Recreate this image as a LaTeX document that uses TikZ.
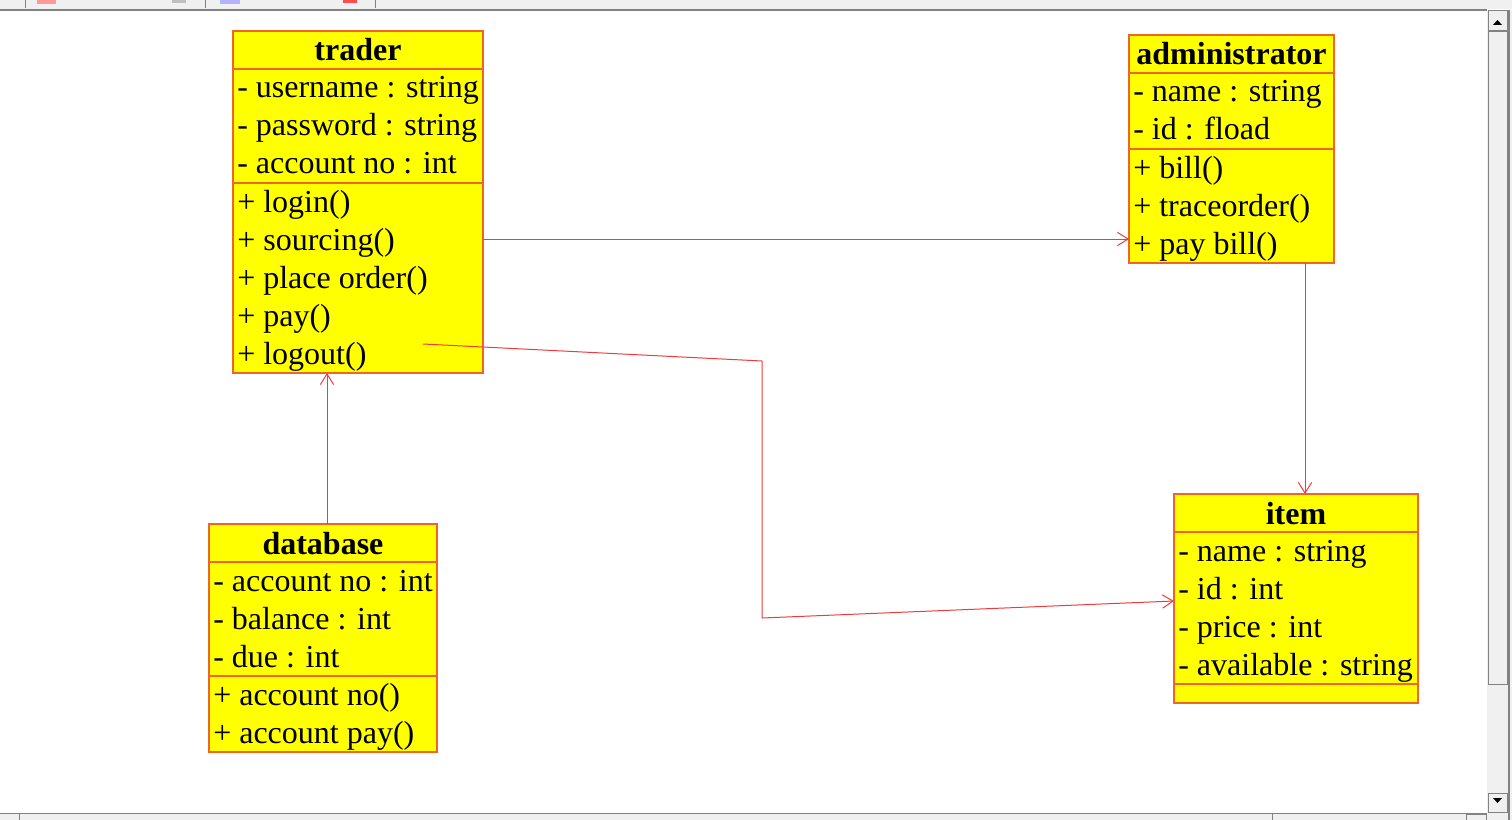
\documentclass[tikz,border=0pt]{standalone}
\usepackage{fontspec}
\setmainfont{Liberation Serif}
\usetikzlibrary{arrows.meta}
\definecolor{boxline}{RGB}{240,100,40}
\definecolor{classfill}{RGB}{255,255,0}
\definecolor{linkred}{RGB}{236,60,60}
\definecolor{chrome}{RGB}{240,240,240}
\definecolor{chromeline}{RGB}{130,130,130}
\newcommand{\px}{0.75pt}
\tikzset{
  classbox/.style={draw=boxline,fill=classfill,line width=1.5*\px,inner sep=0pt,outer sep=0pt,anchor=north west},
  divider/.style={draw=boxline,line width=1.5*\px},
  member/.style={anchor=base west,inner sep=0pt,font=\fontsize{24}{28}\selectfont},
  classname/.style={anchor=base,inner sep=0pt,font=\fontsize{24}{28}\selectfont\bfseries},
  link/.style={draw=linkred,line width=1*\px,-{Straight Barb[length=8pt,width=10pt]}},
  bar/.style={fill=chrome,draw=chromeline,line width=1*\px},
}
\begin{document}
\begin{tikzpicture}[x=0.75pt,y=-0.75pt]
\useasboundingbox (0,0) rectangle (1512,820);
% window chrome
\fill[chrome] (0,0) rectangle (1512,9);
\draw[chromeline,line width=2*\px] (0,10) -- (1487,10);
\draw[chromeline] (25,0) -- (25,8) (205,0) -- (205,8) (375,0) -- (375,8);
\fill[red!40] (37,0) rectangle (56,4);
\fill[gray!50] (172,0) rectangle (186,3);
\fill[blue!30] (220,0) rectangle (240,4);
\fill[red!70] (343,0) rectangle (357,3);
\fill[chrome] (1487,10) rectangle (1512,820);
\fill[chrome] (0,813) rectangle (1512,820);
\draw[chromeline] (0,813) -- (1487,813);
\draw[chromeline] (19,813) -- (19,820) (1272,813) -- (1272,820);
\draw[chromeline,line width=2*\px] (1509,10) -- (1509,820);
\draw[bar] (1488,11) rectangle (1507,31);
\fill (1493,25) -- (1502,25) -- (1497.5,20) -- cycle;
\draw[bar] (1488,32) rectangle (1507,684);
\draw[bar] (1488,793) rectangle (1507,812);
\fill (1493,798) -- (1502,798) -- (1497.5,803) -- cycle;
\draw[bar] (1466,814) rectangle (1486,820);
% trader
\node[classbox,minimum width=250*\px,minimum height=342*\px] (trader) at (233,31) {};
\draw[divider] (233,69) -- (483,69) (233,183) -- (483,183);
\node[classname] (trader-name) at (358,61) {trader};
\foreach \t [count=\i] in {- username : string,- password : string,- account no : int}
  \node[member] (trader-a\i) at (237,60+38*\i) {\t};
\foreach \t [count=\i] in {+ login(),+ sourcing(),+ place order(),+ pay(),+ logout()}
  \node[member] (trader-m\i) at (237,174+38*\i) {\t};
% administrator
\node[classbox,minimum width=205*\px,minimum height=228*\px] (admin) at (1129,35) {};
\draw[divider] (1129,73) -- (1334,73) (1129,149) -- (1334,149);
\node[classname] (admin-name) at (1231.5,65) {administrator};
\foreach \t [count=\i] in {- name : string,- id : fload}
  \node[member] (admin-a\i) at (1133,64+38*\i) {\t};
\foreach \t [count=\i] in {+ bill(),+ traceorder(),+ pay bill()}
  \node[member] (admin-m\i) at (1133,140+38*\i) {\t};
% database
\node[classbox,minimum width=228*\px,minimum height=228*\px] (database) at (209,524) {};
\draw[divider] (209,562) -- (437,562) (209,676) -- (437,676);
\node[classname] (database-name) at (323,554) {database};
\foreach \t [count=\i] in {- account no : int,- balance : int,- due : int}
  \node[member] (database-a\i) at (213,553+38*\i) {\t};
\foreach \t [count=\i] in {+ account no(),+ account pay()}
  \node[member] (database-m\i) at (213,667+38*\i) {\t};
% item
\node[classbox,minimum width=244*\px,minimum height=209*\px] (item) at (1174,494) {};
\draw[divider] (1174,532) -- (1418,532) (1174,684) -- (1418,684);
\node[classname] (item-name) at (1296,524) {item};
\foreach \t [count=\i] in {- name : string,- id : int,- price : int,- available : string}
  \node[member] (item-a\i) at (1178,523+38*\i) {\t};
% links
\coordinate (logout-end) at (423,344);
\draw[link] (trader.east |- 0,239) -- (admin.west |- 0,239);
\draw[link] (database.north -| 327,0) -- (trader.south -| 327,0);
\draw[link] (admin.south -| 1305,0) -- (item.north -| 1305,0);
\draw[link] (logout-end) -- (762,361) -- (762,618) -- (item.west |- 0,601);
\end{tikzpicture}
\end{document}
